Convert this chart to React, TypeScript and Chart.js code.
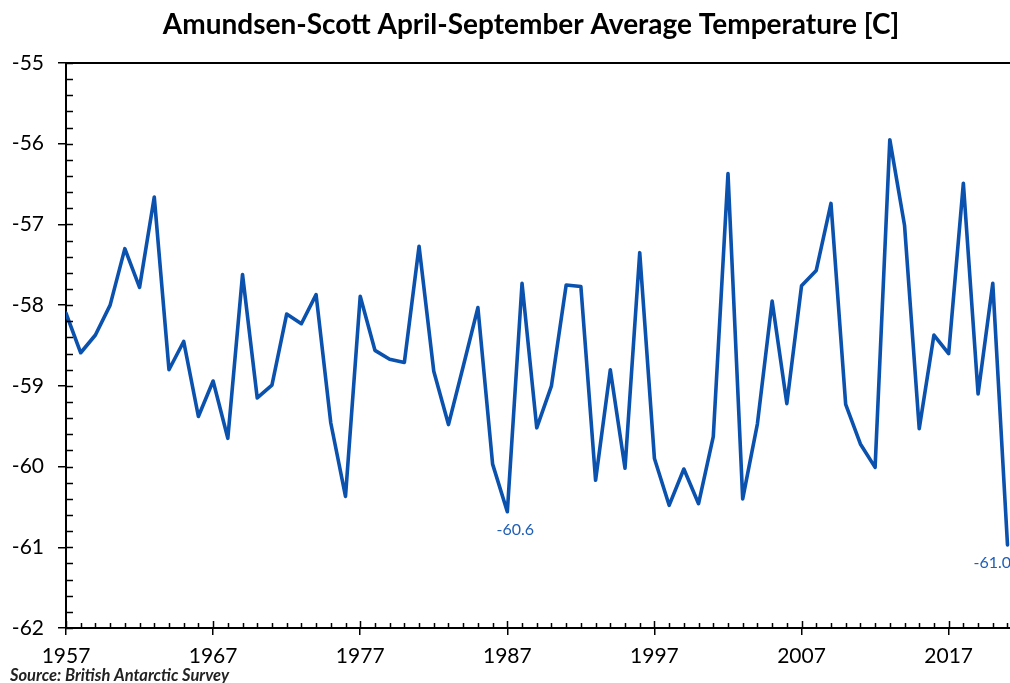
import React, { useEffect, useRef } from "react";
import { Chart, registerables } from "chart.js";

Chart.register(...registerables);

const TITLE = "Amundsen-Scott April-September Average Temperature [C]";
const SOURCE = "Source: British Antarctic Survey";

const years: number[] = [];
for (let y = 1957; y <= 2021; y++) years.push(y);

const temps: number[] = [
  -58.10, -58.59, -58.37, -58.00, -57.30, -57.78, -56.66, -58.80, -58.45, -59.38,
  -58.94, -59.65, -57.62, -59.15, -58.99, -58.11, -58.23, -57.87, -59.46, -60.37,
  -57.89, -58.56, -58.67, -58.71, -57.27, -58.82, -59.48, -58.76, -58.03, -59.97,
  -60.56, -57.73, -59.52, -59.00, -57.75, -57.77, -60.17, -58.80, -60.02, -57.35,
  -59.90, -60.48, -60.03, -60.46, -59.63, -56.37, -60.40, -59.47, -57.95, -59.22,
  -57.76, -57.57, -56.74, -59.23, -59.72, -60.01, -55.95, -57.01, -59.53, -58.37,
  -58.60, -56.49, -59.10, -57.73, -60.97,
];

const labelledYears: number[] = [1987, 2021];
const xTickYears: number[] = [1957, 1967, 1977, 1987, 1997, 2007, 2017];
const yMin = -62;
const yMax = -55;

const LINE_COLOR = "#0b51ae";
const FONT = "Lato, 'Open Sans', sans-serif";

const decorPlugin = {
  id: "decor",
  afterDraw(chart: any) {
    const ctx = chart.ctx;
    const area = chart.chartArea;
    const xs = chart.scales.x;
    const ys = chart.scales.y;
    ctx.save();
    ctx.strokeStyle = "#000";
    ctx.lineWidth = 2;
    ctx.beginPath();
    ctx.moveTo(area.left, area.top);
    ctx.lineTo(chart.width, area.top);
    ctx.stroke();
    ctx.lineWidth = 1.5;
    for (let i = 0; i <= 35; i++) {
      const v = yMin + i * 0.2;
      const py = Math.round(ys.getPixelForValue(v)) + 0.5;
      ctx.beginPath();
      ctx.moveTo(area.left, py);
      ctx.lineTo(area.left + 7, py);
      ctx.stroke();
    }
    for (const yr of years) {
      const px = Math.round(xs.getPixelForValue(yr)) + 0.5;
      const major = xTickYears.includes(yr);
      ctx.beginPath();
      ctx.moveTo(px, area.bottom);
      ctx.lineTo(px, area.bottom - (major ? 7 : 5));
      ctx.stroke();
    }
    ctx.fillStyle = "#1f5fb5";
    ctx.font = `16px ${FONT}`;
    ctx.textAlign = "center";
    ctx.textBaseline = "middle";
    const meta = chart.getDatasetMeta(0);
    labelledYears.forEach((yr) => {
      const idx = years.indexOf(yr);
      const pt = meta.data[idx];
      const txt = temps[idx].toFixed(1);
      const w = ctx.measureText(txt).width;
      let cx = pt.x + 8;
      if (cx + w / 2 > area.right) cx = area.right - w / 2 + 1;
      ctx.fillText(txt, cx, pt.y + 18);
    });
    ctx.fillStyle = "#000";
    ctx.font = `bold 28px ${FONT}`;
    ctx.textAlign = "center";
    ctx.textBaseline = "middle";
    ctx.fillText(TITLE, 531, 25);
    ctx.font = `italic bold 16.5px ${FONT}`;
    ctx.textAlign = "left";
    ctx.textBaseline = "alphabetic";
    ctx.fillStyle = "#222";
    ctx.fillText(SOURCE, 10, 681);
    ctx.restore();
  },
};

export default function App() {
  const ref = useRef<HTMLCanvasElement | null>(null);
  useEffect(() => {
    document.body.style.margin = "0";
    const canvas = ref.current;
    if (!canvas) return;
    const chart = new Chart(canvas, {
      type: "line",
      data: {
        datasets: [
          {
            data: years.map((y, i) => ({ x: y, y: temps[i] })),
            borderColor: LINE_COLOR,
            borderWidth: 3.6,
            borderJoinStyle: "round",
            borderCapStyle: "round",
            pointRadius: 0,
            tension: 0,
            fill: false,
          },
        ],
      },
      options: {
        animation: false,
        responsive: false,
        devicePixelRatio: 1,
        layout: { padding: { top: 63, left: 0, right: 0, bottom: 0 } },
        plugins: {
          legend: { display: false },
          title: { display: false },
          tooltip: { enabled: false },
        },
        scales: {
          x: {
            type: "linear",
            min: 1957,
            max: 2021.17,
            afterBuildTicks: (scale: any) => {
              scale.ticks = xTickYears.map((v) => ({ value: v }));
            },
            afterFit: (scale: any) => {
              scale.height = 55;
            },
            ticks: {
              autoSkip: false,
              maxRotation: 0,
              padding: 9,
              color: "#000",
              font: { family: FONT, size: 21 },
              callback: (v: any) => String(v),
            },
            grid: {
              drawOnChartArea: false,
              color: "#000",
              lineWidth: 1.5,
              tickLength: 7,
            },
            border: { display: true, color: "#000", width: 2 },
          },
          y: {
            type: "linear",
            min: yMin,
            max: yMax,
            afterFit: (scale: any) => {
              scale.width = 66;
            },
            ticks: {
              stepSize: 1,
              padding: 14,
              color: "#000",
              font: { family: FONT, size: 21 },
              callback: (v: any) => String(v),
            },
            grid: {
              drawOnChartArea: false,
              color: "#000",
              lineWidth: 1.5,
              tickLength: 8,
            },
            border: { display: true, color: "#000", width: 2 },
          },
        },
      },
      plugins: [decorPlugin],
    });
    return () => chart.destroy();
  }, []);
  return (
    <div style={{ position: "fixed", left: 0, top: 0, width: 1010, height: 683, background: "#fff" }}>
      <canvas ref={ref} width={1010} height={683} style={{ display: "block" }} />
    </div>
  );
}
